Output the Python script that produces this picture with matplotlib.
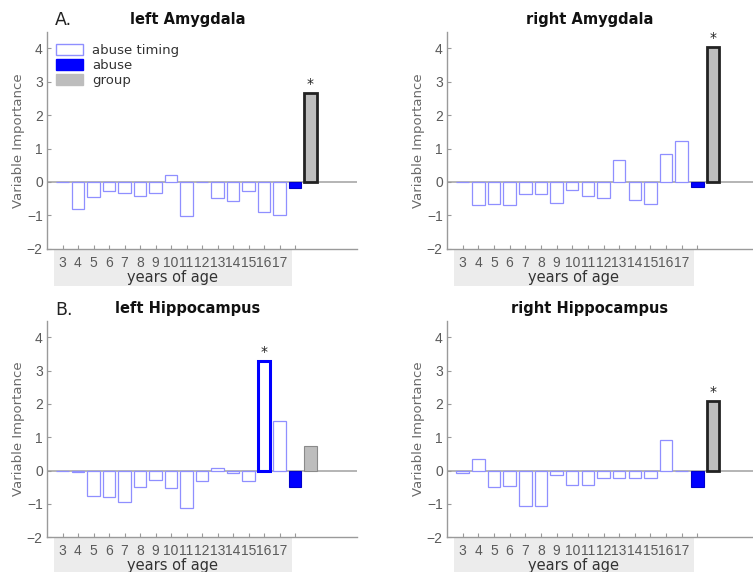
import numpy as np
import matplotlib
matplotlib.use("Agg")
import matplotlib.pyplot as plt
from matplotlib.patches import Rectangle, Patch
import matplotlib.transforms as mtransforms

ages = list(range(3, 18))

# values (variable importance)
la_timing = [-0.01, -0.80, -0.45, -0.27, -0.33, -0.43, -0.32, 0.20, -1.03, 0.01, -0.48, -0.58, -0.28, -0.90, -0.98]
la_abuse = -0.17
la_group = 2.65

ra_timing = [-0.01, -0.68, -0.65, -0.69, -0.35, -0.35, -0.62, -0.23, -0.43, -0.47, 0.66, -0.55, -0.67, 0.83, 1.23]
ra_abuse = -0.15
ra_group = 4.03

lh_timing = [-0.01, -0.03, -0.77, -0.80, -0.95, -0.50, -0.28, -0.53, -1.13, -0.32, 0.07, -0.07, -0.32, 3.30, 1.48]
lh_abuse = -0.50
lh_group = 0.75

rh_timing = [-0.08, 0.34, -0.48, -0.45, -1.07, -1.07, -0.13, -0.43, -0.43, -0.23, -0.23, -0.23, -0.23, 0.93, 0.0]
rh_abuse = -0.49
rh_group = 2.10

titles = ["left Amygdala", "right Amygdala", "left Hippocampus", "right Hippocampus"]
# significant bars: age of the timing bar, or "group"
sig = [["group"], ["group"], [16], ["group"]]

panels = [(la_timing, la_abuse, la_group),
          (ra_timing, ra_abuse, ra_group),
          (lh_timing, lh_abuse, lh_group),
          (rh_timing, rh_abuse, rh_group)]

W, H = 753, 572
fig = plt.figure(figsize=(W / 100, H / 100), dpi=100)

# axes rectangles in pixels: left, top, right, bottom
rects = [(47, 31.6, 357, 248.8),
         (447, 31.6, 760, 248.8),
         (47, 320.5, 357, 537.2),
         (447, 320.5, 760, 537.2)]

axis_col = "#9a9a9a"
tick_col = "#5a5a5a"
light_blue = "#8f8fff"
blue = "#0000ff"
gray = "#bdbdbd"
bw = 0.8
tick_font = ["Liberation Sans", "DejaVu Sans"]

for i, (timing, abuse, group) in enumerate(panels):
    l, t, r, b = rects[i]
    ax = fig.add_axes([l / W, 1 - b / H, (r - l) / W, (b - t) / H])
    ax.set_xlim(2, 22)
    ax.set_ylim(-2, 4.5)

    ax.axhline(0, color="#a8a8a8", lw=1.2, zorder=1)

    for a, v in zip(ages, timing):
        if a in sig[i]:
            ax.bar(a, v, width=bw, facecolor="white", edgecolor=blue, lw=2.2, zorder=3)
            ax.text(a, v + 0.06, "*", ha="center", va="bottom", fontsize=10, color="#222222")
        else:
            ax.bar(a, v, width=bw, facecolor="white", edgecolor=light_blue, lw=0.9, zorder=2)
    ax.bar(18, abuse, width=bw, facecolor=blue, edgecolor="#0000cc", lw=0.8, zorder=2)
    if "group" in sig[i]:
        ax.bar(19, group, width=bw, facecolor=gray, edgecolor="#222222", lw=2.0, zorder=3)
        ax.text(19, group + 0.06, "*", ha="center", va="bottom", fontsize=10, color="#222222")
    else:
        ax.bar(19, group, width=bw, facecolor=gray, edgecolor="#8a8a8a", lw=0.8, zorder=2)

    for s in ["top", "right"]:
        ax.spines[s].set_visible(False)
    for s in ["left", "bottom"]:
        ax.spines[s].set_color(axis_col)
        ax.spines[s].set_linewidth(1.0)

    ax.set_xticks(ages + [18])
    ax.set_xticklabels([str(a) for a in ages] + [""])
    ax.set_yticks(range(-2, 5))
    ax.tick_params(direction="in", length=3, width=0.8, color=axis_col,
                   labelcolor=tick_col, labelsize=10, pad=3)
    ax.tick_params(axis="x", pad=5)
    for lab in ax.get_xticklabels() + ax.get_yticklabels():
        lab.set_family(tick_font)
    ax.set_ylabel("Variable Importance", color="#6a6a6a", fontsize=9.5, labelpad=1)

    # grey box behind the age labels
    trans = mtransforms.blended_transform_factory(ax.transData, ax.transAxes)
    ax.add_patch(Rectangle((2.44, -0.172), 17.79 - 2.44, 0.167, transform=trans,
                           facecolor="#ececec", edgecolor="none", clip_on=False, zorder=-1))
    ax.text((2.44 + 17.79) / 2, -0.13, "years of age", transform=trans,
            ha="center", va="center", fontsize=10.5, color="#333333")

    ax.text(0.455, 1.055, titles[i], transform=ax.transAxes, ha="center",
            va="center", fontsize=10.5, fontweight="bold", color="#111111")

    if i == 0:
        handles = [Patch(facecolor="white", edgecolor=light_blue, lw=1.0),
                   Patch(facecolor=blue, edgecolor=blue),
                   Patch(facecolor=gray, edgecolor=gray)]
        ax.legend(handles, ["abuse timing", "abuse", "group"], loc="upper left",
                  bbox_to_anchor=(0.0, 0.985), frameon=False, fontsize=9.5,
                  handlelength=2.0, handleheight=0.9, handletextpad=0.7,
                  labelspacing=0.15, borderaxespad=0.3, labelcolor="#333333")

fig.text(55 / W, 1 - 20 / H, "A.", fontsize=12.5, ha="left", va="center", color="#222222")
fig.text(55 / W, 1 - 310 / H, "B.", fontsize=12.5, ha="left", va="center", color="#222222")

fig.savefig("out.png", dpi=100)
